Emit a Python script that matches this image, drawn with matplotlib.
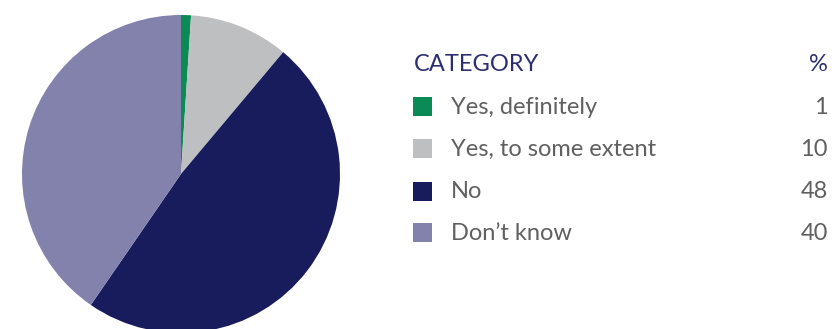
import matplotlib
matplotlib.use("Agg")
import matplotlib.pyplot as plt
from matplotlib.patches import Rectangle

categories = ["Yes, definitely", "Yes, to some extent", "No", "Don\u2019t know"]
percent = [1, 10, 48, 40]
colors = ["#0b8a55", "#bebfc1", "#181b5c", "#8382ad"]
header_label = "CATEGORY"
header_value = "%"

W, H = 834, 329
fig = plt.figure(figsize=(W / 100, H / 100), dpi=100)
ax = fig.add_axes([0, 0, 1, 1])

# pie in pixel-like data units, y pointing up
cx, cy, r = 181, H - 174, 159
ax.pie(percent, colors=colors, startangle=90, counterclock=False,
       center=(cx, cy), radius=r,
       wedgeprops=dict(linewidth=0))
ax.set_xlim(0, W)
ax.set_ylim(0, H)
ax.set_aspect("auto")
ax.axis("off")

font = dict(family=["Lato", "DejaVu Sans"], fontweight="normal")
text_color = "#606060"
navy = "#2b2e70"

# legend table
x_sq, sq = 413, 19
x_lab, x_val = 451, 828
ax.text(x_sq + 1, H - 64.5, header_label, color=navy, fontsize=17,
        va="center", ha="left", **font)
ax.text(x_val, H - 64.5, header_value, color=navy, fontsize=17,
        va="center", ha="right", **font)

row_y = [106.5, 148.5, 191, 232.5]
for name, val, col, y in zip(categories, percent, colors, row_y):
    ax.add_patch(Rectangle((x_sq, H - y - sq / 2), sq, sq, facecolor=col,
                           edgecolor="none"))
    ax.text(x_lab, H - y - 1, name, color=text_color, fontsize=17,
            va="center", ha="left", **font)
    ax.text(x_val, H - y - 1, str(val), color=text_color, fontsize=17,
            va="center", ha="right", **font)

fig.savefig("out.png", dpi=100)
